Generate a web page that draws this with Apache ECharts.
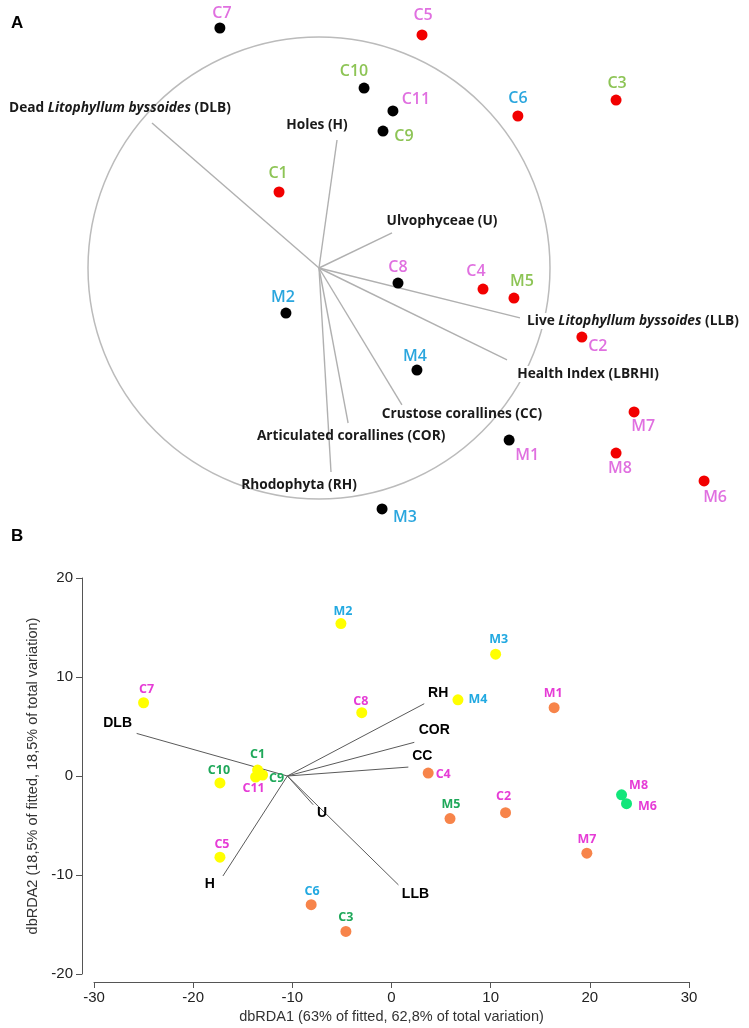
<!DOCTYPE html>
<html>
<head>
<meta charset="utf-8">
<script src="https://cdn.jsdelivr.net/npm/echarts@6/dist/echarts.min.js"></script>
<style>
html,body{margin:0;padding:0;background:#fff;}
#chart{width:749px;height:1028px;}
</style>
</head>
<body>
<div id="chart"></div>
<script>
// ---------- DATA ----------
// Panel A (ordination, units of the correlation circle radius)
const aSites = ['C7','C10','C11','C9','C5','C6','C3','C1','M2','C8','C4','M5','C2','M4','M7','M1','M8','M6','M3'];
const aX = [-0.429,0.195,0.320,0.277,0.446,0.861,1.286,-0.173,-0.143,0.342,0.710,0.844,1.138,0.424,1.364,0.823,1.286,1.667,0.273];
const aY = [1.039,0.779,0.680,0.593,1.009,0.658,0.727,0.329,-0.195,-0.065,-0.091,-0.130,-0.299,-0.442,-0.623,-0.745,-0.801,-0.922,-1.043];
const aGroup = ['g1','g1','g1','g1','g2','g2','g2','g2','g1','g1','g2','g2','g2','g1','g2','g1','g2','g2','g1'];
const aVarNames = ['DLB','H','U','LLB','LBRHI','CC','COR','RH'];
const aVarX = [-0.723,0.078,0.316,0.870,0.814,0.359,0.126,0.052];
const aVarY = [0.628,0.554,0.152,-0.216,-0.398,-0.593,-0.671,-0.883];
const aOrigin = [0,0];
const aCircleRadius = 1;

// Panel B (dbRDA)
const bSites = ['M2','M3','M4','M1','C7','C8','C1','C11','C9','C10','C4','C5','C6','C3','M5','C2','M7','M8','M6'];
const bX = [-5.1,10.5,6.7,16.4,-25.0,-3.0,-13.5,-13.7,-13.0,-17.3,3.7,-17.3,-8.1,-4.6,5.9,11.5,19.7,23.2,23.7];
const bY = [15.4,12.3,7.7,6.9,7.4,6.4,0.6,-0.1,0.1,-0.7,0.3,-8.2,-13.0,-15.7,-4.3,-3.7,-7.8,-1.9,-2.8];
const bGroup = ['k1','k1','k1','k2','k1','k1','k1','k1','k1','k1','k2','k1','k2','k2','k2','k2','k2','k3','k3'];
const bVarNames = ['DLB','RH','COR','CC','U','LLB','H'];
const bVarX = [-25.7,3.3,2.3,1.7,-7.9,0.7,-17.0];
const bVarY = [4.3,7.3,3.4,0.9,-2.9,-11.0,-10.1];
const bOrigin = [-10.5,0];
const bXTicks = [-30,-20,-10,0,10,20,30];
const bYTicks = [-20,-10,0,10,20];
const bXTitle = 'dbRDA1 (63% of fitted, 62,8% of total variation)';
const bYTitle = 'dbRDA2 (18,5% of fitted, 18,5% of total variation)';

// site label group (same for both panels)
const siteLabelGroup = {
  C7:'pink',C8:'pink',C11:'pink',C5:'pink',C4:'pink',C2:'pink',M1:'pink',M7:'pink',M8:'pink',M6:'pink',
  M2:'blue',M3:'blue',M4:'blue',C6:'blue',
  C1:'green',C10:'green',C9:'green',M5:'green',C3:'green'
};
const aVarText = {
  DLB:'{n|Dead }{i|Litophyllum byssoides}{n| (DLB)}',
  H:'{n|Holes (H)}',
  U:'{n|Ulvophyceae (U)}',
  LLB:'{n|Live }{i|Litophyllum byssoides}{n| (LLB)}',
  LBRHI:'{n|Health Index (LBRHI)}',
  CC:'{n|Crustose corallines (CC)}',
  COR:'{n|Articulated corallines (COR)}',
  RH:'{n|Rhodophyta (RH)}'
};

// ---------- STYLE ----------
const aLabelColor = {pink:'#E070E0', blue:'#2AA6DE', green:'#8DC455'};
const bLabelColor = {pink:'#E63CD6', blue:'#22A9E1', green:'#1FA85A'};
const aDotColor = {g1:'#000000', g2:'#F20000'};
const bDotColor = {k1:'#FFFF00', k2:'#F7844A', k3:'#12E67A'};

const aSiteOffset = {C7:[2,-15],C10:[-10,-17],C11:[23,-11],C9:[21,5],C5:[1,-19],C6:[0,-18],C3:[1,-17],C1:[-1,-19],
  M2:[-3,-16],C8:[0,-16],C4:[-7,-18],M5:[8,-17],C2:[16,9],M4:[-2,-14],M7:[9,15],M1:[18,15],M8:[4,15],M6:[11,16],M3:[23,9]};
const aVarOffset = {DLB:[-32,-15],H:[-20,-15],U:[50,-12],LLB:[113,3],LBRHI:[81,14],CC:[60,9],COR:[3,13],RH:[-32,13]};
const aVarBg = {LLB:'#fff', LBRHI:'#fff'};
const bSiteOffset = {M2:[2,-12],M3:[3,-15],M4:[20,0],M1:[-1,-14],C7:[3,-13],C8:[-1,-11],C1:[0,-16],C11:[-2,11],C9:[14,3],
  C10:[-1,-12],C4:[15,1],C5:[2,-13],C6:[1,-13],C3:[0,-14],M5:[1,-14],C2:[-2,-16],M7:[0,-14],M8:[17,-9],M6:[21,3]};
const bVarOffset = {DLB:[-19,-10],RH:[14,-11],COR:[20,-12],CC:[14,-11],U:[9,8],LLB:[17,9],H:[-13,8]};

const chart = echarts.init(document.getElementById('chart'), null, {renderer:'canvas'});

const option = {
  animation:false,
  backgroundColor:'#fff',
  graphic:[
    {type:'text', left:11, top:15, style:{text:'A', font:'bold 17px "Liberation Sans", Arial', fill:'#000'}},
    {type:'text', left:11, top:528, style:{text:'B', font:'bold 17px "Liberation Sans", Arial', fill:'#000'}}
  ],
  grid:[
    {left:41.8, top:13.9, width:693, height:508.2, containLabel:false, outerBoundsMode:'none'},
    {left:94, top:578, width:595, height:396, containLabel:false, outerBoundsMode:'none'}
  ],
  xAxis:[
    {gridIndex:0, type:'value', min:-1.2, max:1.8, show:false},
    {gridIndex:1, type:'value', min:bXTicks[0], max:bXTicks[bXTicks.length-1], interval:10, offset:8,
      splitLine:{show:false},
      axisLine:{show:true, onZero:false, lineStyle:{color:'#555', width:1}},
      axisTick:{show:true, length:6, lineStyle:{color:'#555'}},
      axisLabel:{color:'#222', fontSize:15, fontFamily:'"Liberation Sans", Arial', margin:8},
      name:bXTitle, nameLocation:'middle', nameGap:27,
      nameTextStyle:{color:'#333', fontSize:14.5, fontFamily:'"Liberation Sans", Arial'}
    }
  ],
  yAxis:[
    {gridIndex:0, type:'value', min:-1.1, max:1.1, show:false},
    {gridIndex:1, type:'value', min:bYTicks[0], max:bYTicks[bYTicks.length-1], interval:10, offset:12,
      splitLine:{show:false},
      axisLine:{show:true, onZero:false, lineStyle:{color:'#555', width:1}},
      axisTick:{show:true, length:6, lineStyle:{color:'#555'}},
      axisLabel:{color:'#222', fontSize:15, fontFamily:'"Liberation Sans", Arial', margin:9},
      name:bYTitle, nameLocation:'middle', nameGap:38, nameRotate:90,
      nameTextStyle:{color:'#333', fontSize:14.5, fontFamily:'"Liberation Sans", Arial'}
    }
  ],
  series:[
    // Panel A circle
    {type:'custom', xAxisIndex:0, yAxisIndex:0, silent:true, z:1,
      data:[[aOrigin[0], aOrigin[1], aCircleRadius]],
      renderItem:function(params, api){
        const c = api.coord([api.value(0), api.value(1)]);
        const r = api.size([api.value(2), 0])[0];
        return {type:'circle', shape:{cx:c[0], cy:c[1], r:r}, style:{fill:'none', stroke:'#BBBBBB', lineWidth:1.5}};
      }
    },
    // Panel A vectors
    {type:'custom', xAxisIndex:0, yAxisIndex:0, silent:true, z:2,
      data:aVarX.map((x,i)=>[x, aVarY[i]]),
      renderItem:function(params, api){
        const p0 = api.coord(aOrigin);
        const p1 = api.coord([api.value(0), api.value(1)]);
        return {type:'line', shape:{x1:p0[0],y1:p0[1],x2:p1[0],y2:p1[1]}, style:{stroke:'#B0B0B0', lineWidth:1.4}};
      }
    },
    // Panel A vector labels
    {type:'scatter', xAxisIndex:0, yAxisIndex:0, silent:true, z:5, symbolSize:1,
      itemStyle:{color:'rgba(0,0,0,0)', opacity:1},
      data:aVarNames.map((n,i)=>({value:[aVarX[i], aVarY[i]], name:n,
        label:{show:true, position:'inside', offset:aVarOffset[n], formatter:aVarText[n],
          backgroundColor:aVarBg[n] || 'transparent', padding:[1,2],
          rich:{
            n:{fontFamily:'"Open Sans", sans-serif', fontWeight:700, fontSize:13.7, color:'#1A1A1A'},
            i:{fontFamily:'"Open Sans", sans-serif', fontWeight:700, fontStyle:'italic', fontSize:13.7, color:'#1A1A1A'}
          }}}))
    },
    // Panel A sites
    {type:'scatter', xAxisIndex:0, yAxisIndex:0, silent:true, z:6, symbolSize:11,
      data:aSites.map((n,i)=>({value:[aX[i], aY[i]], name:n,
        itemStyle:{color:aDotColor[aGroup[i]], opacity:1},
        label:{show:true, position:'inside', offset:aSiteOffset[n], formatter:n,
          color:aLabelColor[siteLabelGroup[n]], fontFamily:'"Open Sans", sans-serif', fontWeight:600, fontSize:16}}))
    },
    // Panel B vectors
    {type:'custom', xAxisIndex:1, yAxisIndex:1, silent:true, z:2,
      data:bVarX.map((x,i)=>[x, bVarY[i]]),
      renderItem:function(params, api){
        const p0 = api.coord(bOrigin);
        const p1 = api.coord([api.value(0), api.value(1)]);
        return {type:'line', shape:{x1:p0[0],y1:p0[1],x2:p1[0],y2:p1[1]}, style:{stroke:'#5A5A5A', lineWidth:1}};
      }
    },
    // Panel B vector labels
    {type:'scatter', xAxisIndex:1, yAxisIndex:1, silent:true, z:5, symbolSize:1,
      itemStyle:{color:'rgba(0,0,0,0)', opacity:1},
      data:bVarNames.map((n,i)=>({value:[bVarX[i], bVarY[i]], name:n,
        label:{show:true, position:'inside', offset:bVarOffset[n], formatter:n,
          color:'#000', fontFamily:'"Liberation Sans", Arial', fontWeight:'bold', fontSize:14}}))
    },
    // Panel B sites
    {type:'scatter', xAxisIndex:1, yAxisIndex:1, silent:true, z:6, symbolSize:11,
      data:bSites.map((n,i)=>({value:[bX[i], bY[i]], name:n,
        itemStyle:{color:bDotColor[bGroup[i]], opacity:1},
        label:{show:true, position:'inside', offset:bSiteOffset[n], formatter:n,
          color:bLabelColor[siteLabelGroup[n]], fontFamily:'"Open Sans", sans-serif', fontWeight:700, fontSize:12.5}}))
    }
  ]
};
chart.setOption(option);
</script>
</body>
</html>
